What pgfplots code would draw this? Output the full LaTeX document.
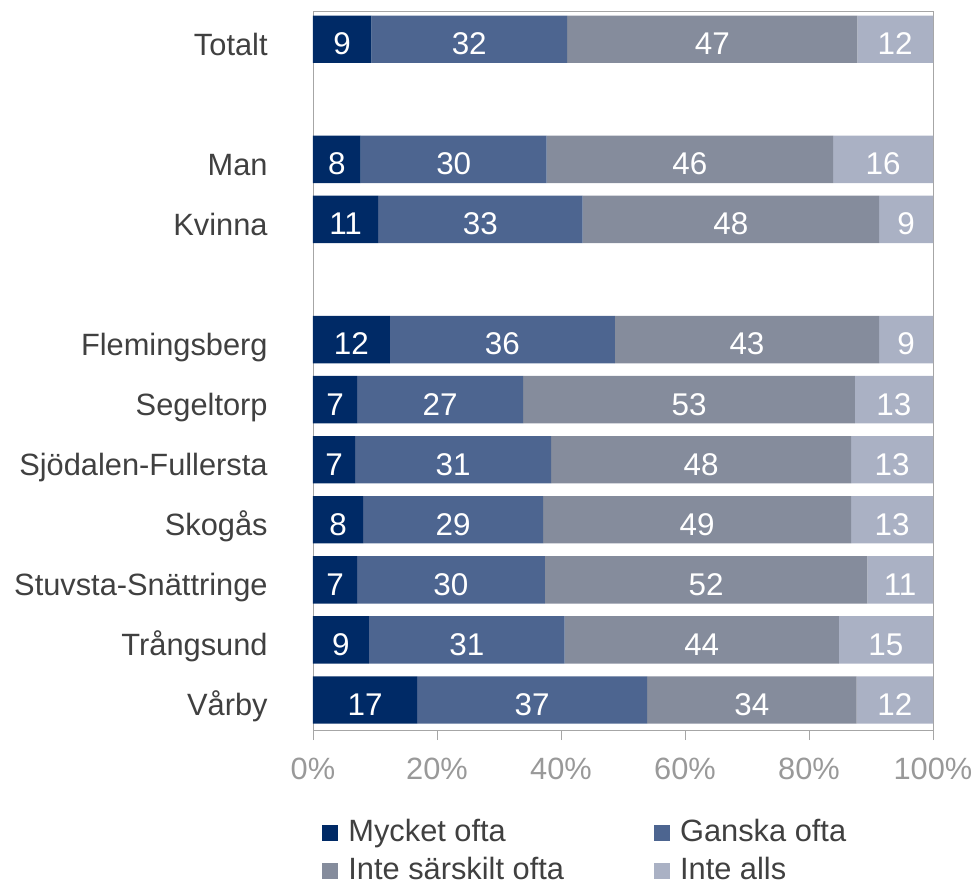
\documentclass[border=0pt]{standalone}
\usepackage{pgfplots}
\usepackage{pgfplotstable}
\pgfplotsset{compat=1.18}
\usepackage{fontspec}
\setmainfont{Liberation Sans}
\definecolor{c1}{HTML}{002A66}
\definecolor{c2}{HTML}{4D6590}
\definecolor{c3}{HTML}{858C9C}
\definecolor{c4}{HTML}{AAB1C4}
\definecolor{txt}{HTML}{404040}
\definecolor{tickc}{HTML}{999999}
\definecolor{framec}{HTML}{A6A6A6}
\newcommand{\fs}{\fontsize{15.4}{18}\selectfont}
\newcommand{\fb}{\fontsize{15.7}{18}\selectfont}

\pgfplotstableread{
y a b c d la lb lc ld ca cb cc cd
0 9.4 31.6 46.8 12.2 9 32 47 12 4.7 25.2 64.4 93.9
2 7.7 30.0 46.2 16.1 8 30 46 16 3.85 22.7 60.8 91.95
3 10.5 33.0 47.8 8.7 11 33 48 9 5.25 27.0 67.4 95.65
5 12.4 36.3 42.6 8.7 12 36 43 9 6.2 30.55 70.0 95.65
6 7.1 26.8 53.5 12.6 7 27 53 13 3.55 20.5 60.65 93.7
7 6.8 31.6 48.4 13.2 7 31 48 13 3.4 22.6 62.6 93.4
8 8.1 29.0 49.7 13.2 8 29 49 13 4.05 22.6 61.95 93.4
9 7.1 30.3 52.0 10.6 7 30 52 11 3.55 22.25 63.4 94.7
10 9.0 31.6 44.2 15.2 9 31 44 15 4.5 24.8 62.7 92.4
11 16.8 37.1 33.8 12.3 17 37 34 12 8.4 35.35 70.8 93.85
}\data

\begin{document}
\begin{tikzpicture}
\pgfplotsset{base/.style={scale only axis, width=310pt, height=359.5pt,
  xmin=0, xmax=100, ymin=-0.47, ymax=11.5, y dir=reverse}}
\begin{axis}[base, xbar stacked, bar width=23.7pt,
  axis line style={framec},
  xtick={0,20,...,100},
  xticklabel={\pgfmathprintnumber{\tick}\%},
  /pgf/number format/assume math mode=true,
  x tick label style={tickc, font=\fs, inner sep=0pt, text height=11pt, text depth=0pt, anchor=north, yshift=-8.5pt},
  tick align=outside, xtick pos=bottom, ytick pos=left, major tick length=5pt,
  tick style={framec},
  y tick style={draw=none},
  ytick={0,2,3,5,6,7,8,9,10,11},
  yticklabels={Totalt,Man,Kvinna,Flemingsberg,Segeltorp,Sjödalen-Fullersta,Skogås,Stuvsta-Snättringe,Trångsund,Vårby},
  y tick label style={txt, font=\fs, inner sep=0pt, text height=11pt, text depth=0pt, anchor=east, xshift=-17.5pt, yshift=-2.5pt},
  legend columns=2,
  legend style={draw=none, fill=none, at={(0,0)}, anchor=north west, xshift=4.5pt, yshift=-44.5pt,
    inner sep=0pt, font=\fs, text=txt, row sep=5pt,
    nodes={inner xsep=5pt, inner ysep=0pt, text height=11pt, text depth=3pt},
    /tikz/every even column/.append style={column sep=40pt}},
  legend cell align=left,
  legend image code/.code={\fill[#1] (0pt,-4pt) rectangle (8pt,4pt);},
]
\addplot[fill=c1, draw=none] table[x=a, y=y] \data;
\addplot[fill=c2, draw=none] table[x=b, y=y] \data;
\addplot[fill=c3, draw=none] table[x=c, y=y] \data;
\addplot[fill=c4, draw=none] table[x=d, y=y] \data;
\legend{Mycket ofta, Ganska ofta, Inte särskilt ofta, Inte alls}
\end{axis}
\begin{axis}[base, hide axis, clip=false,
  nodes near coords, point meta=explicit symbolic,
  nodes near coords align={center},
  every node near coord/.append style={white, font=\fb, inner sep=0pt, text height=11pt, text depth=0pt, anchor=center, yshift=-2.2pt}]
\addplot[draw=none, only marks, mark=none] table[x=ca, y=y, meta=la] \data;
\addplot[draw=none, only marks, mark=none] table[x=cb, y=y, meta=lb] \data;
\addplot[draw=none, only marks, mark=none] table[x=cc, y=y, meta=lc] \data;
\addplot[draw=none, only marks, mark=none] table[x=cd, y=y, meta=ld] \data;
\end{axis}
\pgfresetboundingbox
\path (-156.5pt,-76.5pt) rectangle (333.5pt,365pt);
\end{tikzpicture}
\end{document}
